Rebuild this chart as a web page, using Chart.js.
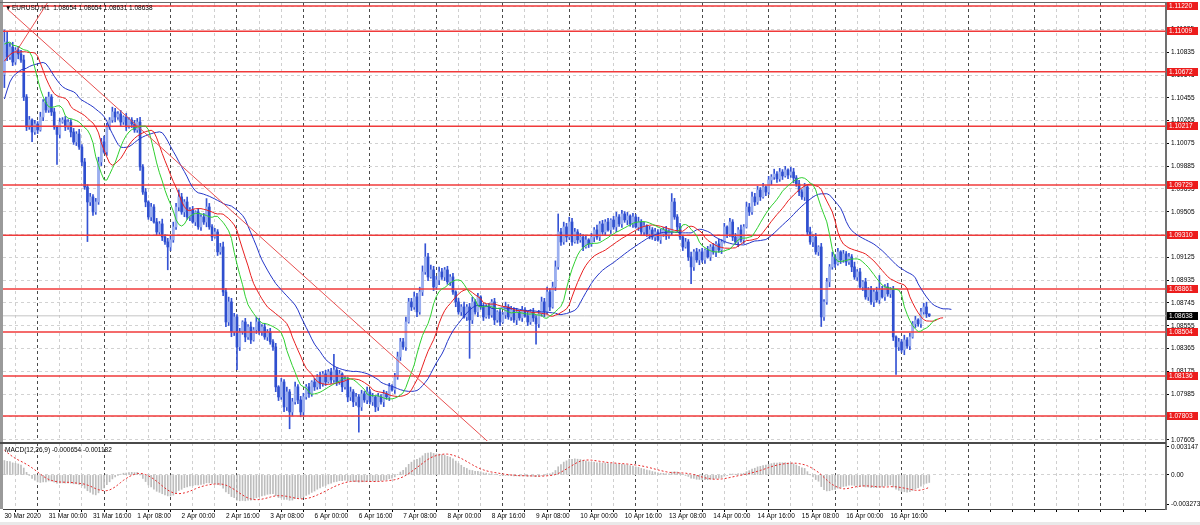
<!DOCTYPE html>
<html>
<head>
<meta charset="utf-8">
<title>EURUSD,H1</title>
<script src="https://cdn.jsdelivr.net/npm/chart.js@4.4.1/dist/chart.umd.min.js"></script>
<style>
    html, body { margin: 0; padding: 0; background: #fff; }
    #wrap { position: relative; width: 1200px; height: 525px; overflow: hidden; background: #fff; }
    #main { position: absolute; left: 0; top: 0; }
    #macd { position: absolute; left: 0; top: 442px; }
</style>
</head>
<body>
<div id="wrap">
    <canvas id="main" width="1200" height="442"></canvas>
    <canvas id="macd" width="1200" height="83"></canvas>
</div>
<script>
(function () {
    "use strict";

    // prices are kept in points above 1.00000 (10920 -> 1.10920), wicks in pips
    const OPEN0 = 10650;
    const closes = [
        10920,10795,10878,10753,10853,10820,10770,10462,10212,10270,10170,10237,10187,10295,10420,10353,
        10462,10337,10212,10150,10253,10270,10212,10253,10170,10087,10153,10045,9920,9712,9587,9629,
        9504,9587,9920,10087,10004,10212,10270,10337,10295,10320,10253,10295,10212,10270,10237,10187,
        10253,9879,9670,9587,9462,9545,9420,9337,9404,9295,9254,9212,9271,9379,9545,9629,
        9504,9587,9462,9520,9420,9504,9379,9462,9420,9545,9379,9295,9337,9171,9212,8837,
        8587,8754,8504,8629,8379,8504,8587,8462,8546,8437,8521,8587,8504,8546,8462,8504,
        8421,8379,8046,7962,8087,7879,8004,7837,7921,8046,7937,7837,7963,8046,7988,8087,
        8046,8129,8071,8154,8087,8171,8104,8187,8087,8154,8046,8104,7962,8004,7921,7962,
        7879,7988,7937,8004,7921,7962,7879,7962,7921,7988,7962,8046,8021,8129,8296,8421,
        8379,8587,8754,8712,8796,8671,8837,9004,9129,8962,9021,8879,8937,9004,8962,9021,
        8921,8962,8837,8754,8671,8712,8629,8712,8604,8754,8671,8796,8712,8629,8712,8646,
        8754,8604,8671,8587,8646,8712,8629,8687,8604,8671,8621,8687,8637,8587,8671,8621,
        8571,8654,8754,8671,8837,8712,8879,9046,9337,9254,9379,9295,9420,9254,9337,9271,
        9295,9212,9271,9237,9295,9354,9295,9404,9337,9420,9354,9437,9379,9462,9404,9487,
        9437,9470,9404,9462,9379,9420,9337,9387,9320,9354,9295,9337,9271,9320,9354,9304,
        9337,9587,9462,9379,9295,9212,9254,9129,9046,9171,9104,9171,9104,9187,9129,9212,
        9171,9237,9187,9254,9379,9320,9420,9295,9254,9354,9271,9379,9545,9504,9629,9587,
        9687,9629,9712,9670,9770,9795,9820,9779,9837,9804,9854,9812,9837,9787,9737,9670,
        9629,9712,9337,9254,9295,9171,9212,8629,8754,8921,9046,9129,9071,9171,9104,9154,
        9087,9129,9046,8962,9004,8879,8921,8796,8854,8754,8837,8771,8854,8796,8879,8821,
        8854,8462,8379,8421,8354,8437,8387,8462,8571,8604,8571,8671,8712,8654,8638
    ];
    const wickHi = [
        10,8,3,4,2,3,3,4,2,3,1,3,2,4,2,4,
        4,2,3,1,3,2,3,2,2,3,2,4,2,3,2,3,
        2,3,4,3,5,3,2,4,3,2,3,1,3,2,2,3,
        3,4,2,3,1,3,2,3,2,4,2,3,3,4,3,6,
        3,2,4,2,3,1,3,2,3,7,3,2,3,2,3,4,
        3,4,3,3,2,3,1,3,2,4,2,4,3,2,3,2,
        3,2,3,1,3,2,4,2,3,4,2,3,3,2,3,1,
        3,2,4,2,3,2,3,13,2,3,1,3,2,4,2,3,
        2,3,2,4,2,3,1,3,2,3,2,3,2,3,4,3,
        3,4,3,3,4,3,4,5,11,3,4,3,3,4,3,2,
        3,2,3,1,3,2,4,2,3,4,2,3,1,3,2,3,
        2,3,1,3,2,4,2,3,2,3,1,3,2,4,2,3,
        2,3,4,3,4,3,4,5,15,3,4,3,4,3,3,2,
        3,2,3,1,3,2,4,2,3,2,3,1,3,4,2,3,
        2,3,1,3,2,4,2,3,1,3,2,3,2,4,2,3,
        2,7,3,2,3,1,3,2,4,2,3,2,3,1,3,2,
        3,2,4,2,3,1,3,2,3,2,4,2,4,3,4,3,
        3,2,3,1,3,2,4,2,3,2,3,1,4,3,2,3,
        2,3,2,4,2,3,1,3,2,3,2,4,2,3,1,3,
        2,3,2,4,2,3,1,3,2,3,2,4,12,3,2,3,
        2,3,1,3,2,4,2,3,2,3,1,3,3,4,0
    ];
    const wickLo = [
        11,3,2,3,2,4,2,3,3,2,8,2,3,1,3,2,
        2,3,2,25,3,1,3,2,4,2,3,2,3,2,33,3,
        3,2,2,3,1,3,2,2,4,2,3,2,3,1,3,2,
        2,3,2,4,2,3,1,3,2,3,2,19,3,2,2,3,
        2,4,2,3,1,3,2,3,2,4,2,3,1,3,2,3,
        4,3,4,3,19,3,2,4,2,3,1,3,2,3,2,3,
        2,3,4,3,2,4,3,14,3,2,3,4,3,2,3,2,
        3,2,4,2,3,1,3,2,3,2,4,2,4,3,4,3,
        21,3,2,3,2,3,4,3,2,4,2,3,1,3,2,3,
        2,3,1,3,2,4,2,3,2,3,1,3,2,4,2,3,
        2,3,2,4,2,3,1,3,32,3,2,4,2,3,1,3,
        2,4,2,3,1,3,2,3,2,4,2,3,1,3,2,3,
        17,3,2,4,2,3,1,3,2,3,2,4,2,3,1,3,
        2,3,1,3,2,4,2,3,2,3,1,3,2,4,2,3,
        2,4,2,3,1,3,2,3,2,4,2,3,1,3,2,3,
        2,3,2,4,2,3,1,3,14,3,2,4,2,3,1,3,
        2,4,2,3,1,3,2,3,2,4,2,3,1,3,2,3,
        2,3,1,3,2,4,2,3,2,3,1,3,2,4,2,3,
        2,3,3,2,4,2,3,8,3,2,4,2,3,1,3,2,
        3,2,4,2,3,1,3,2,3,2,4,2,3,1,3,2,
        3,3,23,3,2,4,2,3,1,3,2,3,2,3,0.7
    ];

    // alligator values left of the first bar (shifted lines)
    const lipsPre = [1.10903, 1.10912, 1.10920];
    const teethPre = [1.10760, 1.10790, 1.10815, 1.10830, 1.10840];
    const jawPre = [1.10445, 1.10520, 1.10587, 1.10628, 1.10653, 1.10670, 1.10687, 1.10695];

    // MACD state before the first bar
    const EMA12_SEED = 1.10740;
    const EMA26_SEED = 1.10580;
    const macdPre = [0.0040, 0.0037, 0.0034, 0.0031, 0.0028, 0.0025, 0.0022, 0.0019];

    const levels = [1.11220, 1.11009, 1.10672, 1.10217, 1.09729, 1.09310, 1.08861, 1.08504, 1.08136, 1.07803];
    const LAST_PRICE = 1.08638;
    const trendDown = [{ x: 1, y: 1.11196 }, { x: 176, y: 1.07561 }];
    const trendUp = [{ x: 4, y: 1.10830 }, { x: 15.5, y: 1.11245 }];

    const priceTicks = [1.07605, 1.07795, 1.07985, 1.08175, 1.08365, 1.08555, 1.08745, 1.08935, 1.09125, 1.09315,
        1.09505, 1.09695, 1.09885, 1.10075, 1.10265, 1.10455, 1.10645, 1.10835, 1.11025, 1.11215];
    const macdTicks = [0.003147, 0, -0.003273];
    const macdTickLabels = ['0.003147', '0.00', '-0.003273'];
    const timeLabels = ['30 Mar 2020', '31 Mar 00:00', '31 Mar 16:00', '1 Apr 08:00', '2 Apr 00:00', '2 Apr 16:00',
        '3 Apr 08:00', '6 Apr 00:00', '6 Apr 16:00', '7 Apr 08:00', '8 Apr 00:00', '8 Apr 16:00', '9 Apr 08:00',
        '10 Apr 00:00', '10 Apr 16:00', '13 Apr 08:00', '14 Apr 00:00', '14 Apr 16:00', '15 Apr 08:00',
        '16 Apr 00:00', '16 Apr 16:00'];

    const X_MIN = -0.5, X_MAX = 419.5;
    const Y_MIN = 1.07595, Y_MAX = 1.11245;
    const FONT = { family: "'Liberation Sans', Arial, sans-serif", size: 6.5 };
    const BLUE = '#3553d4', BULL = '#9aaeef', BEAR = '#2f4fcf';

    function pr(p) { return 1 + p / 1e5; }

    const opens = closes.map(function (c, i) { return i === 0 ? OPEN0 : closes[i - 1]; });
    const highs = closes.map(function (c, i) { return Math.max(opens[i], c) + wickHi[i] * 10; });
    const lows = closes.map(function (c, i) { return Math.min(opens[i], c) - wickLo[i] * 10; });

    // Alligator: SMMA of the median price, shifted right
    const median = highs.map(function (h, i) { return pr((h + lows[i]) / 2); });
    function smma(n, seed) {
        var prev = seed;
        return median.map(function (m) { prev = (prev * (n - 1) + m) / n; return prev; });
    }
    function shifted(pre, vals) {
        var shift = pre.length;
        return pre.map(function (v, j) { return { x: j, y: v }; })
            .concat(vals.map(function (v, i) { return { x: i + shift, y: v }; }));
    }
    const lips = shifted(lipsPre, smma(5, lipsPre[lipsPre.length - 1]));
    const teeth = shifted(teethPre, smma(8, teethPre[teethPre.length - 1]));
    const jaw = shifted(jawPre, smma(13, jawPre[jawPre.length - 1]));

    // MACD(12,26,9): main as histogram, signal = SMA9 of main
    var e12 = EMA12_SEED, e26 = EMA26_SEED;
    const macdMain = closes.map(function (c) {
        var p = pr(c);
        e12 += (p - e12) * 2 / 13;
        e26 += (p - e26) * 2 / 27;
        return e12 - e26;
    });
    const macdAll = macdPre.concat(macdMain);
    const macdSignal = macdMain.map(function (m, i) {
        var s = 0;
        for (var k = i; k < i + 9; k++) s += macdAll[k];
        return s / 9;
    });

    const gridBars = [];
    for (var g = 0; g <= X_MAX; g += 8) gridBars.push(g);
    function isDay(v) { return v >= 16 && (v - 16) % 24 === 0; }
    function xGridColor(ctx) {
        if (!ctx.tick) return 'rgba(0,0,0,0)';
        return isDay(ctx.tick.value) ? '#4a4a4a' : '#cfcfcf';
    }
    // keep the plot area where it is: no extra room for edge labels
    function noPad(s) {
        s.paddingTop = 0; s.paddingBottom = 0; s.paddingLeft = 0; s.paddingRight = 0;
    }

    function hline(v, color, width, order) {
        return {
            type: 'line', data: [{ x: X_MIN, y: v }, { x: X_MAX, y: v }],
            borderColor: color, borderWidth: width, pointRadius: 0, order: order
        };
    }
    function line(data, color, order) {
        return {
            type: 'line', data: data, borderColor: color, borderWidth: 1,
            pointRadius: 0, tension: 0, order: order
        };
    }

    const mainDatasets = [
        {
            type: 'bar', data: closes.map(function (c, i) { return { x: i, y: [pr(lows[i]), pr(highs[i])] }; }),
            backgroundColor: BLUE, barThickness: 1, grouped: false, order: 8
        },
        {
            type: 'bar', data: closes.map(function (c, i) { return { x: i, y: [pr(opens[i]), pr(c)] }; }),
            backgroundColor: function (ctx) {
                var i = ctx.dataIndex;
                return closes[i] >= opens[i] ? BULL : BEAR;
            },
            barThickness: 2, grouped: false, order: 7
        },
        hline(LAST_PRICE, '#c4c4c4', 1, 9)
    ];
    levels.forEach(function (v) { mainDatasets.push(hline(v, '#f03a3a', 1.5, 5)); });
    mainDatasets.push(line(jaw, '#2436c8', 4));
    mainDatasets.push(line(teeth, '#e82020', 3));
    mainDatasets.push(line(lips, '#2fcf2f', 2));
    mainDatasets.push(line(trendDown, '#e85050', 1));
    mainDatasets.push(line(trendUp, '#e85050', 1));

    function priceBox(ctx, scale, v, fill) {
        var y = Math.round(scale.getPixelForValue(v));
        ctx.fillStyle = fill;
        ctx.fillRect(1167, y - 4, 31, 8);
        ctx.fillStyle = '#fff';
        ctx.fillText(v.toFixed(5), 1169, y);
    }

    const mainOverlay = {
        id: 'mainOverlay',
        afterDraw: function (chart) {
            var ctx = chart.ctx, y = chart.scales.y, a = chart.chartArea;
            ctx.save();
            ctx.fillStyle = '#9a9a9a';
            ctx.fillRect(0, 0, 3, 442);
            ctx.fillStyle = '#6a6a6a';
            ctx.fillRect(0, 2, a.right, 1);
            ctx.font = '6.5px ' + FONT.family;
            ctx.textBaseline = 'middle';
            ctx.textAlign = 'left';
            levels.forEach(function (v) { priceBox(ctx, y, v, '#ec1c1c'); });
            priceBox(ctx, y, LAST_PRICE, '#000');
            ctx.fillStyle = '#000';
            ctx.fillText('\u25BC', 5, 8);
            ctx.fillText('EURUSD,H1  1.08654 1.08654 1.08631 1.08638', 12, 8);
            ctx.restore();
        }
    };

    new Chart(document.getElementById('main'), {
        type: 'bar',
        data: { datasets: mainDatasets },
        options: {
            responsive: false,
            animation: false,
            devicePixelRatio: 1,
            layout: { padding: { left: 3, top: 3, right: 0, bottom: 1 } },
            plugins: { legend: { display: false }, tooltip: { enabled: false } },
            scales: {
                x: {
                    type: 'linear', min: X_MIN, max: X_MAX, offset: false,
                    afterBuildTicks: function (s) { s.ticks = gridBars.map(function (v) { return { value: v }; }); },
                    afterFit: function (s) { s.height = 0; noPad(s); },
                    ticks: { display: false },
                    grid: { color: xGridColor, lineWidth: 1, drawTicks: false, tickBorderDash: [] },
                    border: { display: false, dash: [3, 3] }
                },
                y: {
                    position: 'right', min: Y_MIN, max: Y_MAX,
                    afterBuildTicks: function (s) { s.ticks = priceTicks.map(function (v) { return { value: v }; }); },
                    afterFit: function (s) { s.width = 34; noPad(s); },
                    ticks: {
                        font: FONT, color: '#000', padding: 2,
                        callback: function (v) { return v.toFixed(5); }
                    },
                    grid: { color: '#d2d2d2', drawTicks: true, tickLength: 3, tickColor: '#000', tickBorderDash: [] },
                    border: { display: true, color: '#707070', width: 2, dash: [3, 3] }
                }
            }
        },
        plugins: [mainOverlay]
    });

    const macdOverlay = {
        id: 'macdOverlay',
        afterDraw: function (chart) {
            var ctx = chart.ctx, a = chart.chartArea;
            ctx.save();
            ctx.fillStyle = '#9a9a9a';
            ctx.fillRect(0, 0, 3, 67);
            ctx.fillStyle = '#4a4a4a';
            ctx.fillRect(0, 0, a.right, 2);
            ctx.fillStyle = '#e9e9e9';
            ctx.fillRect(0, 80, 1200, 3);
            ctx.font = '6.5px ' + FONT.family;
            ctx.textBaseline = 'middle';
            ctx.fillStyle = '#000';
            ctx.fillText('MACD(12,26,9) -0.000654 -0.001182', 5, 8);
            ctx.restore();
        }
    };

    new Chart(document.getElementById('macd'), {
        type: 'bar',
        data: {
            datasets: [
                {
                    type: 'bar', data: macdMain.map(function (v, i) { return { x: i, y: v }; }),
                    backgroundColor: '#bdbdbd', barThickness: 1, grouped: false, order: 2
                },
                {
                    type: 'line', data: macdSignal.map(function (v, i) { return { x: i, y: v }; }),
                    borderColor: '#e82828', borderWidth: 1, borderDash: [2, 2], pointRadius: 0, order: 1
                }
            ]
        },
        options: {
            responsive: false,
            animation: false,
            devicePixelRatio: 1,
            layout: { padding: { left: 3, top: 1, right: 0, bottom: 0 } },
            plugins: { legend: { display: false }, tooltip: { enabled: false } },
            scales: {
                x: {
                    type: 'linear', min: X_MIN, max: X_MAX, offset: false,
                    afterBuildTicks: function (s) { s.ticks = gridBars.map(function (v) { return { value: v }; }); },
                    afterFit: function (s) { s.height = 16; noPad(s); },
                    ticks: {
                        font: FONT, color: '#000', padding: 0, autoSkip: false, maxRotation: 0, align: 'start',
                        callback: function (v) {
                            var k = v / 16;
                            return (v % 16 === 0 && k < timeLabels.length) ? timeLabels[k] : '';
                        }
                    },
                    grid: {
                        color: xGridColor, lineWidth: 1, drawTicks: true, tickLength: 3,
                        tickColor: '#000', tickBorderDash: []
                    },
                    border: { display: true, color: '#404040', width: 1, dash: [3, 3] }
                },
                y: {
                    position: 'right', min: -0.003836, max: 0.003597,
                    afterBuildTicks: function (s) { s.ticks = macdTicks.map(function (v) { return { value: v }; }); },
                    afterFit: function (s) { s.width = 34; noPad(s); },
                    ticks: {
                        font: FONT, color: '#000', padding: 2,
                        callback: function (v, i) { return macdTickLabels[i]; }
                    },
                    grid: {
                        color: function (ctx) {
                            return ctx.tick && ctx.tick.value === 0 ? '#d2d2d2' : 'rgba(0,0,0,0)';
                        },
                        drawTicks: true, tickLength: 3, tickColor: '#000', tickBorderDash: []
                    },
                    border: { display: true, color: '#707070', width: 2, dash: [3, 3] }
                }
            }
        },
        plugins: [macdOverlay]
    });
})();
</script>
</body>
</html>
